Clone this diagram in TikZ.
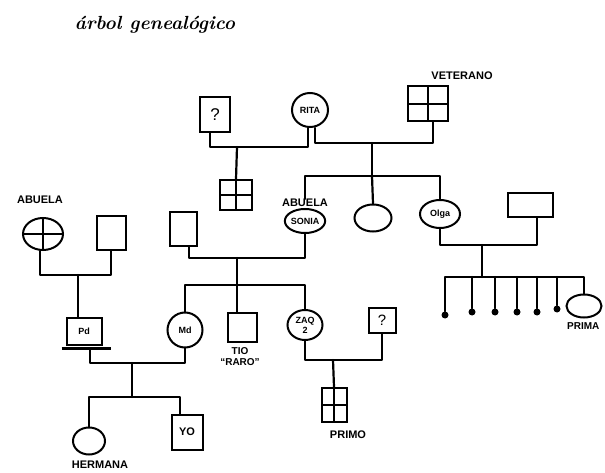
\documentclass[tikz,border=0pt]{standalone}
\usepackage{fontspec}
\setsansfont{Liberation Sans}
\usetikzlibrary{shapes.geometric}
\tikzset{
  line/.style={line width=2.2pt, line cap=round, line join=round},
  sq/.style={draw, line width=2pt, rectangle, inner sep=0pt, font=\sffamily\bfseries\fontsize{9}{10}\selectfont},
  fem/.style={draw, line width=2pt, ellipse, inner sep=0pt, font=\sffamily\bfseries\fontsize{9}{10}\selectfont, align=center},
  crossed/.style={path picture={\draw[line width=1.8pt] (path picture bounding box.north) -- (path picture bounding box.south) (path picture bounding box.west) -- (path picture bounding box.east);}},
  lbl/.style={font=\sffamily\bfseries\fontsize{11}{12}\selectfont, inner sep=0pt},
  dead/.style={circle, fill=black, minimum size=7pt, inner sep=0pt}
}
\begin{document}
\begin{tikzpicture}[x=1pt,y=-1pt]
\useasboundingbox (0,0) rectangle (605,473);
% title
\node (title) at (155,25) {\fontsize{19}{21}\selectfont\bfseries\itshape árbol genealógico};
% generation 1
\node[sq, minimum width=30pt, minimum height=35pt, font=\sffamily\fontsize{17}{18}\selectfont] (q1) at (215,115) {?};
\node[fem, minimum width=36pt, minimum height=34pt] (rita) at (310,110) {RITA};
\node[sq, crossed, minimum width=40pt, minimum height=35pt] (vet) at (428,104) {};
\node[lbl] (vetl) at (462,76) {VETERANO};
% generation 2 (top family children)
\node[sq, crossed, minimum width=32pt, minimum height=30pt] (g1) at (236,195) {};
\node[lbl] (sonial) at (305,203) {ABUELA};
\node[fem, minimum width=40pt, minimum height=24pt] (sonia) at (305,221) {SONIA};
\node[fem, minimum width=37pt, minimum height=27pt] (aunt1) at (373,218) {};
\node[fem, minimum width=40pt, minimum height=28pt] (olga) at (440,214) {Olga};
\node[sq, minimum width=45pt, minimum height=24pt] (sq2) at (530,205) {};
% left grandparents
\node[lbl] (abuelal) at (40,200) {ABUELA};
\node[fem, crossed, minimum width=40pt, minimum height=32pt] (abuelaL) at (43,234) {};
\node[sq, minimum width=29pt, minimum height=33pt] (abueloL) at (111,233) {};
\node[sq, minimum width=27pt, minimum height=33pt] (gfR) at (183,229) {};
% generation 3
\node[sq, minimum width=35pt, minimum height=27pt] (pd) at (84,331) {Pd};
\draw[line width=3pt] ([xshift=-4pt,yshift=-3pt]pd.south west) -- ([xshift=8pt,yshift=-3pt]pd.south east);
\node[fem, minimum width=35pt, minimum height=35pt] (md) at (185,330) {Md};
\node[sq, minimum width=29pt, minimum height=29pt] (tio) at (242,327) {};
\node[lbl, align=center, font=\sffamily\bfseries\fontsize{10}{11}\selectfont] (tiol) at (240,357) {TIO\\``RARO''};
\node[fem, minimum width=35pt, minimum height=30pt] (zaq) at (305,325) {ZAQ\\2};
\node[sq, minimum width=27pt, minimum height=25pt, font=\sffamily\fontsize{15}{16}\selectfont] (q2) at (382,320) {?};
% dead children and prima
\node[dead] (d1) at (445,315) {};
\node[dead] (d2) at (472,312) {};
\node[dead] (d3) at (495,312) {};
\node[dead] (d4) at (517,312) {};
\node[dead] (d5) at (537,312) {};
\node[dead] (d6) at (557,309) {};
\node[fem, minimum width=35pt, minimum height=23pt] (prima) at (584,306) {};
\node[lbl, anchor=west, font=\sffamily\bfseries\fontsize{10}{11}\selectfont] (primal) at (567,326) {PRIMA};
% generation 4
\node[sq, crossed, minimum width=25pt, minimum height=34pt] (primo) at (334,405) {};
\node[lbl] (primol) at (348,435) {PRIMO};
\node[fem, minimum width=32pt, minimum height=27pt] (hermana) at (89,441) {};
\node[lbl] (hermanal) at (100,465) {HERMANA};
\node[sq, minimum width=31pt, minimum height=35pt, font=\sffamily\bfseries\fontsize{11}{12}\selectfont] (yo) at (187,432) {YO};
% junction coordinates
\coordinate (m1) at (237,147);
\coordinate (m2) at (372,143);
\coordinate (s2) at (372,176);
\coordinate (m3) at (78,275);
\coordinate (m4) at (237,258);
\coordinate (s4) at (237,285);
\coordinate (m5) at (132,363);
\coordinate (s5) at (132,397);
\coordinate (m6) at (333,360);
\coordinate (m7) at (482,245);
\coordinate (s7) at (482,277);
% connectors
\draw[line] ([xshift=-5pt]q1.south) |- (m1) -| ([xshift=-2pt]rita.south);
\draw[line] (m1) -- (g1.north);
\draw[line] ([xshift=5pt]rita.south) |- (m2) -| ([xshift=5pt]vet.south);
\draw[line] (m2) -- (s2);
\draw[line] (sonial.north) |- (s2) -| (olga.north);
\draw[line] (s2) -- (aunt1.north);
\draw[line] ([xshift=-3pt]abuelaL.south) |- (m3) -| (abueloL.south);
\draw[line] (m3) -- (m3 |- pd.north);
\draw[line] ([xshift=6pt]gfR.south) |- (m4) -| (sonia.south);
\draw[line] (m4) -- (s4);
\draw[line] (md.north) |- (s4) -| (zaq.north);
\draw[line] (s4) -- (s4 |- tio.north);
\draw[line] ([xshift=6pt,yshift=-3pt]pd.south) |- (m5) -| (md.south);
\draw[line] (m5) -- (s5);
\draw[line] (hermana.north) |- (s5) -| ([xshift=-7pt]yo.north);
\draw[line] (zaq.south) |- (m6) -| (q2.south);
\draw[line] (m6) -- (primo.north);
\draw[line] (olga.south) |- (m7) -| ([xshift=7pt]sq2.south);
\draw[line] (m7) -- (s7);
\draw[line] (d1) |- (s7) -| (prima.north);
\draw[line] (d2) -- (d2 |- s7);
\draw[line] (d3) -- (d3 |- s7);
\draw[line] (d4) -- (d4 |- s7);
\draw[line] (d5) -- (d5 |- s7);
\draw[line] (d6) -- (d6 |- s7);
\end{tikzpicture}
\end{document}
